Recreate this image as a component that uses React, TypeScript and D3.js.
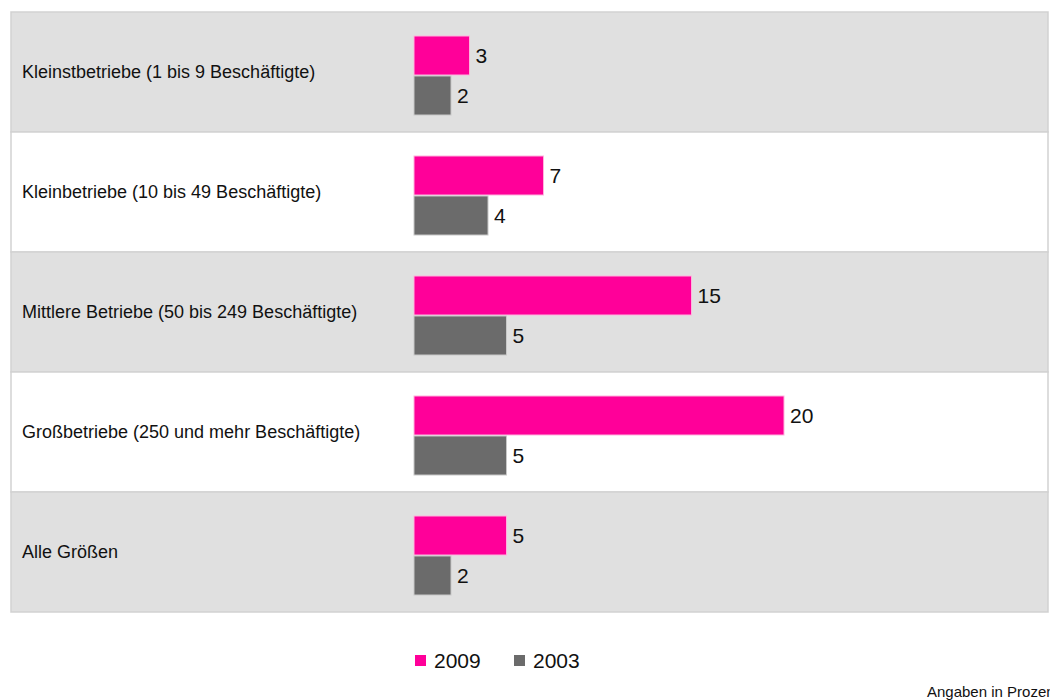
import { useMemo } from 'react';
import * as d3 from 'd3';

const CATEGORIES = [
  'Kleinstbetriebe (1 bis 9 Beschäftigte)',
  'Kleinbetriebe (10 bis 49 Beschäftigte)',
  'Mittlere Betriebe (50 bis 249 Beschäftigte)',
  'Großbetriebe (250 und mehr Beschäftigte)',
  'Alle Größen',
];
const SERIES = ['2009', '2003'];
const VALUES_2009 = [3, 7, 15, 20, 5];
const VALUES_2003 = [2, 4, 5, 5, 2];
const COLORS = ['#ff0099', '#6b6b6b'];
const STROKES = ['#ffb3dd', '#c8c8c8'];
const NOTE = 'Angaben in Prozent';

const WIDTH = 1050;
const HEIGHT = 700;
const PLOT = { left: 11, right: 1048, top: 12, bottom: 612 };
const BAR_X0 = 414;
const FONT = '"Liberation Sans", Arial, sans-serif';

export default function App() {
  const rows = useMemo(
    () => CATEGORIES.map((c, i) => ({ cat: c, values: [VALUES_2009[i], VALUES_2003[i]] })),
    []
  );

  const y = d3.scaleBand<string>().domain(CATEGORIES).range([PLOT.top, PLOT.bottom]);
  const x = d3.scaleLinear().domain([0, 20]).range([BAR_X0, 784]);
  const inner = d3.scaleBand<string>().domain(SERIES).range([24, 103]).paddingInner(0.025);

  return (
    <div style={{ position: 'absolute', left: 0, top: 0, width: WIDTH, height: HEIGHT, overflow: 'hidden' }}>
      <svg width={WIDTH} height={HEIGHT} style={{ display: 'block', fontFamily: FONT }}>
        <rect width={WIDTH} height={HEIGHT} fill="#fff" />
        {/* row bands */}
        {rows.map((r, i) => (
          <rect
            key={r.cat}
            x={PLOT.left}
            y={y(r.cat)!}
            width={PLOT.right - PLOT.left}
            height={y.bandwidth()}
            fill={i % 2 === 0 ? '#e0e0e0' : '#ffffff'}
            stroke="#d2d2d2"
            strokeWidth={1.5}
          />
        ))}

        {rows.map((r) => {
          const y0 = y(r.cat)!;
          return (
            <g key={r.cat}>
              <text
                x={22}
                y={y0 + y.bandwidth() / 2}
                dy="0.35em"
                fontSize={18}
                fill="#111"
              >
                {r.cat}
              </text>
              {SERIES.map((s, j) => {
                const by = y0 + inner(s)!;
                const v = r.values[j];
                return (
                  <g key={s}>
                    <rect
                      x={x(0)}
                      y={by}
                      width={x(v) - x(0)}
                      height={inner.bandwidth()}
                      fill={COLORS[j]}
                      stroke={STROKES[j]}
                      strokeWidth={1}
                    />
                    <text
                      x={x(v) + 6}
                      y={by + inner.bandwidth() / 2}
                      dy="0.35em"
                      fontSize={21}
                      fill="#111"
                    >
                      {v}
                    </text>
                  </g>
                );
              })}
            </g>
          );
        })}

        {/* legend */}
        {SERIES.map((s, j) => {
          const lx = 415 + j * 99;
          return (
            <g key={s}>
              <rect x={lx} y={655} width={11} height={11} fill={COLORS[j]} />
              <text x={lx + 19} y={660.5} dy="0.35em" fontSize={21} fill="#111">
                {s}
              </text>
            </g>
          );
        })}

        <text x={927} y={697} fontSize={15} fill="#111">
          {NOTE}
        </text>
      </svg>
    </div>
  );
}
